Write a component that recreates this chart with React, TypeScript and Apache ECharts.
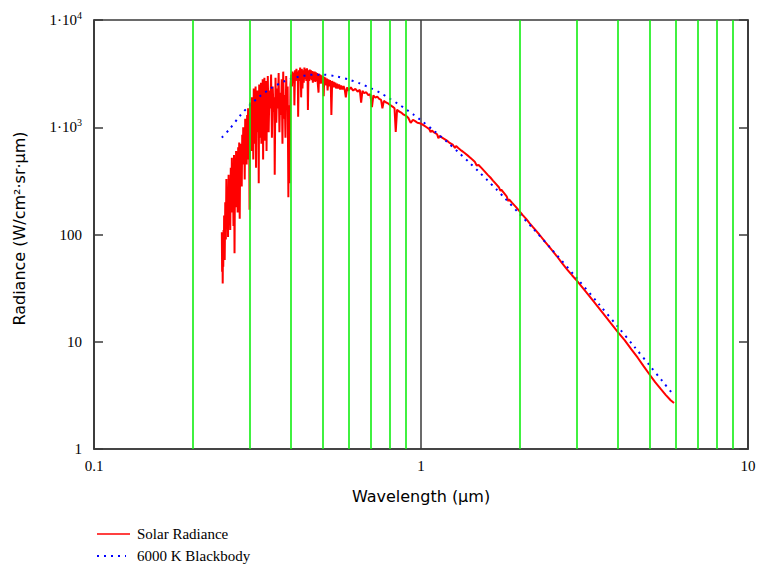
import React, { useEffect, useRef } from "react";
import * as echarts from "echarts";

// Wavelength (µm) of green minor grid lines
const xGridValues = [0.2, 0.3, 0.4, 0.5, 0.6, 0.7, 0.8, 0.9, 2, 3, 4, 5, 6, 7, 8, 9];
const xTickLabels = ["0.1", "1", "10"];
const yTickLabels = ["1", "10", "100", "1·10^3", "1·10^4"];
const seriesNames = ["Solar Radiance", "6000 K Blackbody"];

// Solar radiance [wavelength µm, W/cm²·sr·µm] — UV part (very jagged)
const solarUV: number[][] = [
  [0.246, 105], [0.2465, 45], [0.247, 100], [0.2475, 35], [0.248, 80], [0.2485, 50], [0.249, 110], [0.2495, 60],
  [0.25, 150], [0.251, 58], [0.252, 200], [0.253, 90], [0.254, 330], [0.255, 118], [0.256, 250], [0.257, 95],
  [0.258, 360], [0.259, 140], [0.26, 280], [0.261, 110], [0.262, 420], [0.263, 160], [0.264, 520], [0.265, 200],
  [0.266, 380], [0.267, 120], [0.268, 550], [0.269, 67], [0.27, 450], [0.271, 180], [0.272, 600], [0.273, 250],
  [0.274, 500], [0.275, 160], [0.276, 650], [0.277, 300], [0.278, 720], [0.279, 140], [0.28, 600], [0.281, 350],
  [0.282, 700], [0.283, 280], [0.284, 850], [0.285, 450], [0.286, 1000], [0.287, 500], [0.288, 900], [0.289, 325],
  [0.29, 1200], [0.291, 600], [0.292, 1100], [0.293, 450], [0.294, 1300], [0.295, 700], [0.296, 1500], [0.297, 500],
  [0.298, 1400], [0.299, 170], [0.3, 1700], [0.301, 800], [0.302, 1500], [0.303, 600], [0.304, 1900], [0.305, 900],
  [0.306, 1700], [0.307, 500], [0.308, 2300], [0.309, 1000], [0.31, 1800], [0.311, 700], [0.312, 2400], [0.313, 420],
  [0.314, 1600], [0.315, 900], [0.316, 2200], [0.317, 1200], [0.318, 1900], [0.319, 300], [0.32, 2500], [0.321, 800],
  [0.322, 1700], [0.323, 1100], [0.324, 2600], [0.325, 700], [0.326, 2000], [0.327, 1300], [0.328, 2800], [0.329, 500],
  [0.33, 2200], [0.331, 1000], [0.332, 2900], [0.333, 750], [0.334, 1900], [0.335, 1400], [0.336, 2700], [0.337, 600],
  [0.338, 2100], [0.339, 1200], [0.34, 3000], [0.342, 900], [0.344, 2200], [0.346, 1500], [0.348, 3100], [0.35, 800],
  [0.352, 2400], [0.354, 1400], [0.356, 1900], [0.357, 360], [0.359, 2900], [0.361, 1100], [0.363, 2300], [0.365, 1500],
  [0.367, 3200], [0.369, 900], [0.371, 2100], [0.373, 1300], [0.375, 2800], [0.377, 700], [0.379, 3300], [0.381, 1200],
  [0.383, 2000], [0.385, 800], [0.387, 3000], [0.389, 1500], [0.391, 2400], [0.392, 700], [0.393, 223], [0.395, 1600],
  [0.396, 300], [0.397, 600], [0.399, 2500],
];

// Solar radiance — visible part
const solarVisible: number[][] = [
  [0.401, 3100], [0.403, 2400], [0.405, 3300], [0.407, 2600], [0.409, 3200], [0.41, 1600], [0.412, 3400], [0.414, 2700],
  [0.416, 3500], [0.418, 2800], [0.42, 3300], [0.421, 1250], [0.423, 3400], [0.425, 2700], [0.427, 3600], [0.429, 2900],
  [0.43, 1900], [0.432, 3500], [0.434, 2300], [0.436, 3400], [0.438, 2600], [0.44, 3600], [0.442, 2800], [0.444, 3500],
  [0.446, 2700], [0.448, 3550], [0.45, 2800], [0.451, 1450], [0.453, 3400], [0.455, 2700], [0.457, 3450], [0.459, 2800],
  [0.461, 3400], [0.463, 2750], [0.465, 3350], [0.467, 2600], [0.469, 3300], [0.471, 2700], [0.473, 3300], [0.475, 2650],
  [0.477, 3250], [0.479, 2700], [0.481, 3200], [0.483, 2650], [0.486, 2100], [0.488, 3150], [0.49, 2600], [0.492, 3100],
  [0.494, 2550], [0.496, 3050], [0.498, 2600], [0.5, 3000], [0.502, 2500], [0.504, 1950], [0.506, 2950], [0.508, 2500],
  [0.51, 2900], [0.513, 2450], [0.516, 2850], [0.518, 2200], [0.521, 2800], [0.524, 2400], [0.527, 2750], [0.53, 2400],
  [0.532, 1300], [0.535, 2700], [0.538, 2350], [0.541, 2650], [0.544, 2350], [0.547, 2600], [0.55, 2300], [0.554, 2550],
  [0.558, 2300], [0.562, 2500], [0.566, 2250], [0.57, 2450], [0.575, 2250], [0.58, 2420], [0.585, 2200], [0.589, 1900],
  [0.594, 2350], [0.6, 2200], [0.61, 2350], [0.62, 2200], [0.63, 2280], [0.64, 2150], [0.65, 2230], [0.656, 1700],
  [0.662, 2180], [0.67, 2080], [0.68, 2120], [0.69, 1990], [0.7, 2030], [0.708, 1540], [0.715, 1980], [0.725, 1890],
  [0.735, 1930], [0.745, 1840], [0.755, 1800], [0.762, 1500], [0.77, 1760], [0.78, 1710], [0.79, 1680], [0.8, 1630],
  [0.81, 1590], [0.82, 1550], [0.83, 1500], [0.837, 905], [0.845, 1460], [0.855, 1410], [0.87, 1370], [0.885, 1310],
  [0.9, 1280], [0.915, 1220], [0.93, 1100], [0.945, 1170], [0.96, 1140], [0.975, 1100], [0.99, 1090],
];

// Solar radiance — infrared part
const solarIR: number[][] = [
  [1.0, 1080], [1.02, 1040], [1.04, 1000], [1.06, 960], [1.07, 900], [1.08, 930], [1.1, 890], [1.12, 860],
  [1.13, 790], [1.14, 830], [1.16, 800], [1.18, 775], [1.2, 750], [1.22, 720], [1.25, 690], [1.27, 640],
  [1.28, 670], [1.3, 640], [1.33, 605], [1.36, 575], [1.4, 535], [1.43, 505], [1.46, 478], [1.48, 440],
  [1.5, 445], [1.53, 418], [1.56, 392], [1.6, 360], [1.63, 340], [1.66, 318], [1.7, 293], [1.73, 276],
  [1.75, 255], [1.76, 262], [1.8, 240], [1.83, 225], [1.85, 205], [1.86, 212], [1.9, 197], [1.95, 181],
  [2.0, 165], [2.05, 151], [2.1, 139], [2.15, 127], [2.2, 117], [2.3, 100], [2.4, 85], [2.5, 73],
  [2.6, 63], [2.7, 54], [2.8, 47], [2.9, 41.5], [3.0, 37], [3.2, 29], [3.4, 23], [3.6, 18.5],
  [3.8, 15], [4.0, 12.3], [4.2, 10.3], [4.4, 8.5], [4.6, 7.1], [4.8, 5.9], [5.0, 4.95], [5.2, 4.2],
  [5.4, 3.65], [5.6, 3.2], [5.8, 2.85], [5.94, 2.68],
];

// 6000 K blackbody curve
const blackbody: number[][] = [
  [0.246, 800], [0.26, 964], [0.28, 1287], [0.3, 1611], [0.32, 1922], [0.35, 2340], [0.38, 2660], [0.4, 2828],
  [0.425, 2970], [0.45, 3062], [0.475, 3095], [0.5, 3094], [0.55, 2982], [0.6, 2791], [0.65, 2562], [0.7, 2320],
  [0.75, 2096], [0.8, 1859], [0.85, 1655], [0.9, 1471], [0.95, 1306], [1.0, 1160], [1.1, 918], [1.2, 731],
  [1.3, 586], [1.4, 474], [1.5, 387], [1.6, 318], [1.7, 264], [1.8, 220], [2.0, 156], [2.2, 114],
  [2.5, 73.8], [3.0, 39], [3.5, 22.4], [4.0, 13.8], [4.5, 8.93], [5.0, 6.03], [5.5, 4.21], [5.9, 3.24],
];

const solar = [...solarUV, ...solarVisible, ...solarIR];

const serif = "'Liberation Serif', 'Times New Roman', serif";
const sans = "'DejaVu Sans', Arial, sans-serif";
const frame = "#3a3a3a";
const red = "#ff0000";
const blue = "#0000ff";

function yLabel(v: number): string {
  const e = Math.round(Math.log10(v));
  const t = yTickLabels[e] ?? String(v);
  const parts = t.split("^");
  if (parts.length === 2) return `{n|${parts[0]}}{s|${parts[1]}}`;
  return `{n|${t}}`;
}

export default function App() {
  const ref = useRef<HTMLDivElement>(null);
  useEffect(() => {
    if (!ref.current) return;
    const chart = echarts.init(ref.current, null, { renderer: "svg" });
    chart.setOption({
      animation: false,
      backgroundColor: "#ffffff",
      grid: {
        left: 94,
        right: 11,
        top: 20,
        bottom: 116,
        show: true,
        borderColor: frame,
        borderWidth: 1.5,
        backgroundColor: "transparent",
      },
      graphic: [
        {
          type: "line",
          shape: { x1: 97, y1: 534, x2: 130, y2: 534 },
          style: { stroke: red, lineWidth: 1.5 },
          silent: true,
        },
        {
          type: "text",
          x: 137,
          y: 534,
          style: { text: seriesNames[0], fontFamily: serif, fontSize: 15, fill: "#000", verticalAlign: "middle" },
          silent: true,
        },
        {
          type: "line",
          shape: { x1: 97, y1: 556, x2: 126, y2: 556 },
          style: { stroke: blue, lineWidth: 2, lineDash: [2, 5] },
          silent: true,
        },
        {
          type: "text",
          x: 137,
          y: 556,
          style: { text: seriesNames[1], fontFamily: serif, fontSize: 15, fill: "#000", verticalAlign: "middle" },
          silent: true,
        },
      ],
      xAxis: {
        type: "log",
        logBase: 10,
        min: 0.1,
        max: 10,
        name: "Wavelength (μm)",
        nameLocation: "middle",
        nameGap: 39,
        nameTextStyle: { fontFamily: sans, fontSize: 16, color: "#000" },
        axisLine: { show: true, lineStyle: { color: frame, width: 1.5 } },
        axisTick: { show: false },
        splitLine: { show: true, lineStyle: { color: frame, width: 1.5 } },
        axisLabel: {
          fontFamily: serif,
          fontSize: 15,
          color: "#000",
          margin: 9,
          formatter: (v: number) => xTickLabels[Math.round(Math.log10(v)) + 1] ?? String(v),
        },
      },
      yAxis: [
        {
          type: "log",
          logBase: 10,
          min: 1,
          max: 10000,
          position: "left",
          name: "Radiance (W/cm²·sr·μm)",
          nameLocation: "middle",
          nameGap: 67,
          nameTextStyle: { fontFamily: sans, fontSize: 16, color: "#000", padding: [0, 0, 0, 12] },
          axisLine: { show: true, lineStyle: { color: frame, width: 1.5 } },
          axisTick: { show: true, inside: true, length: 9, lineStyle: { color: frame, width: 1.5 } },
          splitLine: { show: false },
          axisLabel: {
            margin: 12,
            formatter: yLabel,
            rich: {
              n: { fontFamily: serif, fontSize: 15, color: "#000", lineHeight: 20 },
              s: { fontFamily: serif, fontSize: 10, color: "#000", lineHeight: 10, verticalAlign: "top" },
            },
          },
        },
        {
          type: "log",
          logBase: 10,
          min: 1,
          max: 10000,
          position: "right",
          axisLine: { show: true, lineStyle: { color: frame, width: 1.5 } },
          axisTick: { show: true, inside: true, length: 9, lineStyle: { color: frame, width: 1.5 } },
          axisLabel: { show: false },
          splitLine: { show: false },
        },
      ],
      series: [
        {
          name: "gridlines",
          type: "line",
          data: [[1, 1]],
          symbol: "none",
          showSymbol: false,
          lineStyle: { opacity: 0 },
          silent: true,
          z: 1,
          markLine: {
            silent: true,
            symbol: "none",
            animation: false,
            label: { show: false },
            lineStyle: { color: "#11ee11", width: 1.6, type: "solid" },
            emphasis: { disabled: true },
            data: xGridValues.map((v) => ({ xAxis: v })),
          },
        },
        {
          name: seriesNames[0],
          type: "line",
          data: solar,
          symbol: "none",
          showSymbol: false,
          lineStyle: { color: red, width: 2 },
          itemStyle: { color: red },
          z: 3,
        },
        {
          name: seriesNames[1],
          type: "line",
          data: blackbody,
          symbol: "none",
          showSymbol: false,
          smooth: 0.3,
          lineStyle: { color: blue, width: 2, type: [2, 5] },
          itemStyle: { color: blue },
          z: 4,
        },
      ],
    });
    return () => chart.dispose();
  }, []);
  return (
    <div
      ref={ref}
      style={{ position: "fixed", left: 0, top: 0, width: 759, height: 565, background: "#fff" }}
    />
  );
}
